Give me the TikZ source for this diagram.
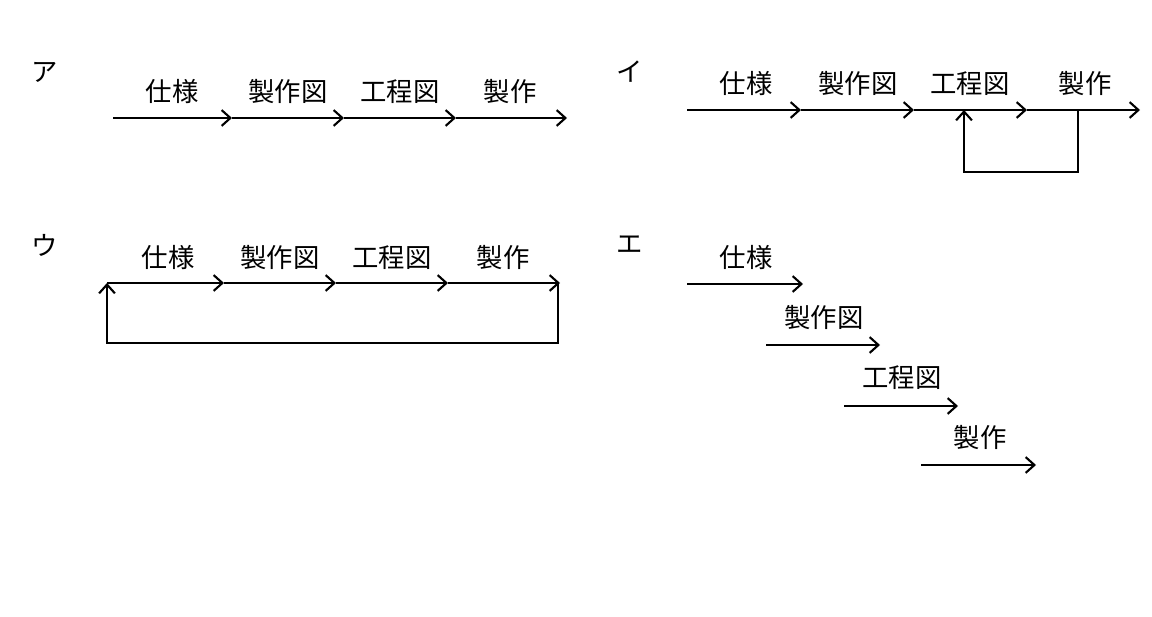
\documentclass[tikz,border=0pt]{standalone}
\usepackage{fontspec}
\setmainfont{Noto Sans CJK JP}
\usetikzlibrary{arrows.meta}
\tikzset{
  flow/.style={line width=1.2pt,-{Straight Barb[length=5pt,width=9pt]}},
  stage/.style={font=\fontsize{15}{15}\selectfont,inner sep=0pt},
  panel/.style={font=\fontsize{15}{15}\selectfont,inner sep=0pt}
}
\begin{document}
\begin{tikzpicture}[x=0.02cm,y=-0.02cm]
  \useasboundingbox (0,0) rectangle (1152,617);

  % ア
  \node[panel] (la) at (45,72) {ア};
  \coordinate (a0) at (113,118);
  \coordinate (a1) at (232,118);
  \coordinate (a2) at (344,118);
  \coordinate (a3) at (456,118);
  \coordinate (a4) at (567,118);
  \node[stage] (sa1) at (172,92) {仕様};
  \node[stage] (sa2) at (288,92) {製作図};
  \node[stage] (sa3) at (400,92) {工程図};
  \node[stage] (sa4) at (510,92) {製作};
  \draw[flow] (a0) -- (a1);
  \draw[flow] (a1) -- (a2);
  \draw[flow] (a2) -- (a3);
  \draw[flow] (a3) -- (a4);

  % イ
  \node[panel] (li) at (630,72) {イ};
  \coordinate (i0) at (687,110);
  \coordinate (i1) at (801,110);
  \coordinate (i2) at (914,110);
  \coordinate (i3) at (1027,110);
  \coordinate (i4) at (1140,110);
  \coordinate (ib) at (1078,110);
  \coordinate (ic) at (1078,172);
  \coordinate (id) at (964,172);
  \coordinate (ie) at (964,110);
  \node[stage] (si1) at (746,84) {仕様};
  \node[stage] (si2) at (858,84) {製作図};
  \node[stage] (si3) at (970,84) {工程図};
  \node[stage] (si4) at (1085,84) {製作};
  \draw[flow] (i0) -- (i1);
  \draw[flow] (i1) -- (i2);
  \draw[flow] (i2) -- (i3);
  \draw[flow] (i3) -- (i4);
  \draw[flow] (ib) -- (ic) -- (id) -- (ie);

  % ウ
  \node[panel] (lu) at (45,245) {ウ};
  \coordinate (u0) at (107,283);
  \coordinate (u1) at (224,283);
  \coordinate (u2) at (336,283);
  \coordinate (u3) at (448,283);
  \coordinate (u4) at (560,283);
  \coordinate (ub) at (558,283);
  \coordinate (uc) at (558,343);
  \coordinate (ud) at (107,343);
  \node[stage] (su1) at (168,258) {仕様};
  \node[stage] (su2) at (280,258) {製作図};
  \node[stage] (su3) at (392,258) {工程図};
  \node[stage] (su4) at (503,258) {製作};
  \draw[flow] (u0) -- (u1);
  \draw[flow] (u1) -- (u2);
  \draw[flow] (u2) -- (u3);
  \draw[flow] (u3) -- (u4);
  \draw[flow] (ub) -- (uc) -- (ud) -- (u0);

  % エ
  \node[panel] (le) at (630,245) {エ};
  \coordinate (e1a) at (687,284);
  \coordinate (e1b) at (803,284);
  \coordinate (e2a) at (766,345);
  \coordinate (e2b) at (880,345);
  \coordinate (e3a) at (844,406);
  \coordinate (e3b) at (958,406);
  \coordinate (e4a) at (921,465);
  \coordinate (e4b) at (1036,465);
  \node[stage] (se1) at (746,258) {仕様};
  \node[stage] (se2) at (824,318) {製作図};
  \node[stage] (se3) at (902,378) {工程図};
  \node[stage] (se4) at (980,438) {製作};
  \draw[flow] (e1a) -- (e1b);
  \draw[flow] (e2a) -- (e2b);
  \draw[flow] (e3a) -- (e3b);
  \draw[flow] (e4a) -- (e4b);
\end{tikzpicture}
\end{document}
